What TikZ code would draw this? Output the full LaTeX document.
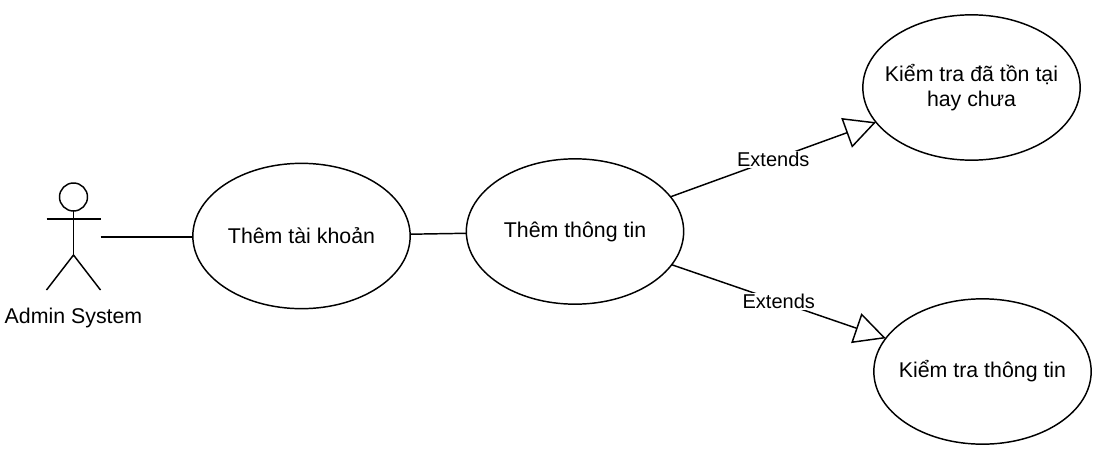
\documentclass[tikz,border=0pt]{standalone}
\usepackage{fontspec}
\setmainfont{Liberation Sans}
\usetikzlibrary{shapes.geometric,arrows.meta}
\tikzset{
  usecase/.style={draw=black,line width=1.1pt,ellipse,inner xsep=-30pt,inner ysep=0pt,outer sep=0pt,align=center,minimum width=163pt,minimum height=109pt,font=\fontsize{16}{19}\selectfont},
  extline/.style={draw=black,line width=1.1pt,-{Triangle[open,length=23.5pt,width=23.5pt,line width=1.1pt]}},
  extlabel/.style={fill=white,inner sep=1pt,font=\fontsize{15}{17}\selectfont},
  actorpart/.style={draw=black,line width=1.1pt}
}
\begin{document}
\begin{tikzpicture}[x=0.75pt,y=-0.75pt]
\useasboundingbox (0,0) rectangle (1120,464);
% actor
\node [actorpart,circle,minimum size=21pt,inner sep=0pt,outer sep=0pt] (head) at (73.5,197) {};
\coordinate (hip) at (73.5,255);
\coordinate (armleft) at (46.5,219);
\coordinate (armright) at (100.5,219);
\coordinate (footleft) at (46.5,290);
\coordinate (footright) at (100.5,290);
\coordinate (actorend) at (100.5,237);
\draw [actorpart] (head) -- (hip);
\draw [actorpart] (armleft) -- (armright);
\draw [actorpart] (footleft) -- (hip) -- (footright);
\node [font=\fontsize{16}{19}\selectfont] (admin) at (73.5,318) {Admin System};
% use cases
\node [usecase] (addaccount) at (301.5,236) {Thêm tài khoản};
\node [usecase] (addinfo) at (575,231.5) {Thêm thông tin};
\node [usecase] (checkexist) at (971.5,87.5) {Kiểm tra đã tồn tại\\hay chưa};
\node [usecase] (checkinfo) at (982.5,371.5) {Kiểm tra thông tin};
% connectors
\draw [actorpart] (actorend) -- (addaccount.west |- actorend);
\draw [actorpart] (addaccount) -- (addinfo);
\draw [extline] (addinfo) -- node [extlabel,pos=0.5] (extendsup) {Extends} (checkexist);
\draw [extline] (addinfo) -- node [extlabel,pos=0.5] (extendsdown) {Extends} (checkinfo);
\end{tikzpicture}
\end{document}
